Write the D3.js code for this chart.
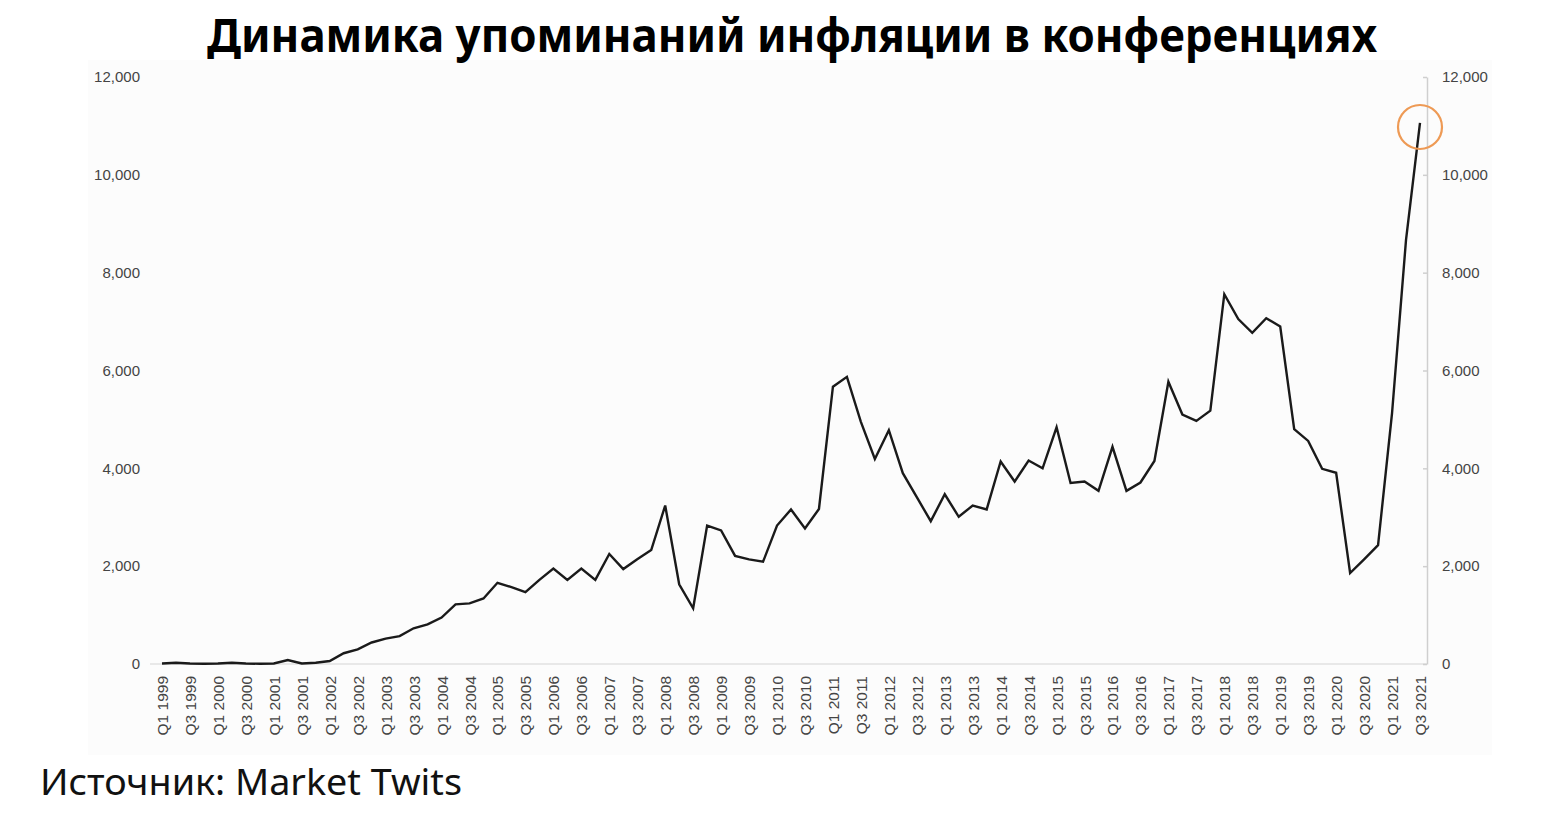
<!DOCTYPE html>
<html>
<head>
<meta charset="utf-8">
<script src="https://cdn.jsdelivr.net/npm/d3@7"></script>
<style>
  html, body { margin: 0; padding: 0; background: #ffffff; }
  svg { display: block; }
</style>
</head>
<body>
<svg id="chart" width="1562" height="822"></svg>
<script>
// ---- Data ----
const years = ["1999","2000","2001","2002","2003","2004","2005","2006","2007","2008","2009","2010",
               "2011","2012","2013","2014","2015","2016","2017","2018","2019","2020","2021"];
const quarters = [];
years.forEach(y => ["Q1","Q2","Q3","Q4"].forEach(q => quarters.push(q + " " + y)));
const categories = quarters.slice(0, 91); // Q1 1999 .. Q3 2021

const mentions = [
  10, 25, 10, 5, 10, 25, 10, 5,            // 1999-2000
  10, 80, 10, 25, 60, 220, 300, 440,       // 2001-2002
  520, 570, 730, 810, 950, 1220, 1240, 1340, // 2003-2004
  1660, 1570, 1470, 1720, 1950, 1720, 1950, 1720, // 2005-2006
  2250, 1940, 2140, 2330, 3240, 1630, 1140, 2830, // 2007-2008
  2730, 2210, 2140, 2090, 2830, 3160, 2770, 3170, // 2009-2010
  5670, 5870, 4950, 4190, 4780, 3900, 3410, 2920, // 2011-2012
  3470, 3010, 3240, 3160, 4140, 3730, 4160, 4000, // 2013-2014
  4840, 3700, 3730, 3540, 4440, 3540, 3710, 4150, // 2015-2016
  5770, 5100, 4970, 5180, 7560, 7050, 6770, 7070, // 2017-2018
  6900, 4800, 4560, 3990, 3910, 1860, 2140, 2430, // 2019-2020
  5130, 8670, 11060                              // 2021
];
const yTicks = [0, 2000, 4000, 6000, 8000, 10000, 12000];
const xTickLabels = categories.filter(c => c.startsWith("Q1") || c.startsWith("Q3"));
const titleText = "Динамика упоминаний инфляции в конференциях";
const sourceText = "Источник: Market Twits";
const highlightCategory = "Q3 2021";

// ---- Layout ----
const svg = d3.select("#chart");
const plotLeft = 162, plotRight = 1420, plotTop = 77, plotBottom = 664;

// chart image background panel
svg.append("rect").attr("x", 88).attr("y", 60).attr("width", 1404).attr("height", 695)
  .attr("fill", "#fcfcfc");

const x = d3.scalePoint().domain(categories).range([plotLeft, plotRight]);
const y = d3.scaleLinear().domain([0, 12000]).range([plotBottom, plotTop]);

// Title
svg.append("text")
  .attr("x", 207).attr("y", 52)
  .attr("textLength", 1170).attr("lengthAdjust", "spacingAndGlyphs")
  .attr("font-family", "'Noto Sans', 'DejaVu Sans', sans-serif")
  .attr("font-weight", 700).attr("font-size", 47)
  .attr("fill", "#000").text(titleText);

// Baseline
svg.append("line")
  .attr("x1", 150).attr("x2", 1427)
  .attr("y1", y(0)).attr("y2", y(0))
  .attr("stroke", "#e2e2e2").attr("stroke-width", 1.5);

// Left axis (labels only)
const leftAxis = d3.axisLeft(y).tickValues(yTicks).tickFormat(d3.format(",")).tickSize(0).tickPadding(0);
const gl = svg.append("g").attr("transform", "translate(140,0)").call(leftAxis);
gl.select(".domain").remove();
gl.selectAll("text").attr("font-family", "'Liberation Sans', Arial, sans-serif")
  .attr("font-size", 15).attr("fill", "#444");

// Right axis
const rightAxis = d3.axisRight(y).tickValues(yTicks).tickFormat(d3.format(",")).tickSize(0).tickPadding(15);
const gr = svg.append("g").attr("transform", "translate(1427,0)").call(rightAxis);
gr.select(".domain").attr("stroke", "#cfcfcf").attr("stroke-width", 1.5);
gr.selectAll(".tick line").remove();
gr.selectAll(".tick").append("line").attr("x1", -4).attr("x2", 0).attr("stroke", "#cfcfcf").attr("stroke-width", 1.5);
gr.selectAll("text").attr("font-family", "'Liberation Sans', Arial, sans-serif")
  .attr("font-size", 15).attr("fill", "#444");

// Bottom axis (rotated labels)
const bottomAxis = d3.axisBottom(x).tickValues(xTickLabels).tickSize(0).tickPadding(0);
const gb = svg.append("g").attr("transform", `translate(0,${plotBottom})`).call(bottomAxis);
gb.select(".domain").remove();
gb.selectAll("text")
  .attr("font-family", "'Liberation Sans', Arial, sans-serif")
  .attr("font-size", 15.5).attr("fill", "#444")
  .attr("text-anchor", "end")
  .attr("dy", null)
  .attr("transform", "translate(5.5,12) rotate(-90)");

// Line
const line = d3.line().x((d, i) => x(categories[i])).y(d => y(d)).curve(d3.curveLinear);
svg.append("path").datum(mentions)
  .attr("d", line)
  .attr("fill", "none").attr("stroke", "#1a1a1a").attr("stroke-width", 2.4)
  .attr("stroke-linejoin", "miter");

// Highlight circle
const hiIdx = categories.indexOf(highlightCategory);
svg.append("circle")
  .attr("cx", x(highlightCategory)).attr("cy", y(mentions[hiIdx]) + 4)
  .attr("r", 22)
  .attr("fill", "none").attr("stroke", "#ee9a55").attr("stroke-width", 2.2);

// Source
svg.append("text")
  .attr("x", 40).attr("y", 795)
  .attr("textLength", 422).attr("lengthAdjust", "spacingAndGlyphs")
  .attr("font-family", "'Noto Sans', 'DejaVu Sans', sans-serif")
  .attr("font-size", 37).attr("fill", "#111").text(sourceText);
</script>
</body>
</html>
